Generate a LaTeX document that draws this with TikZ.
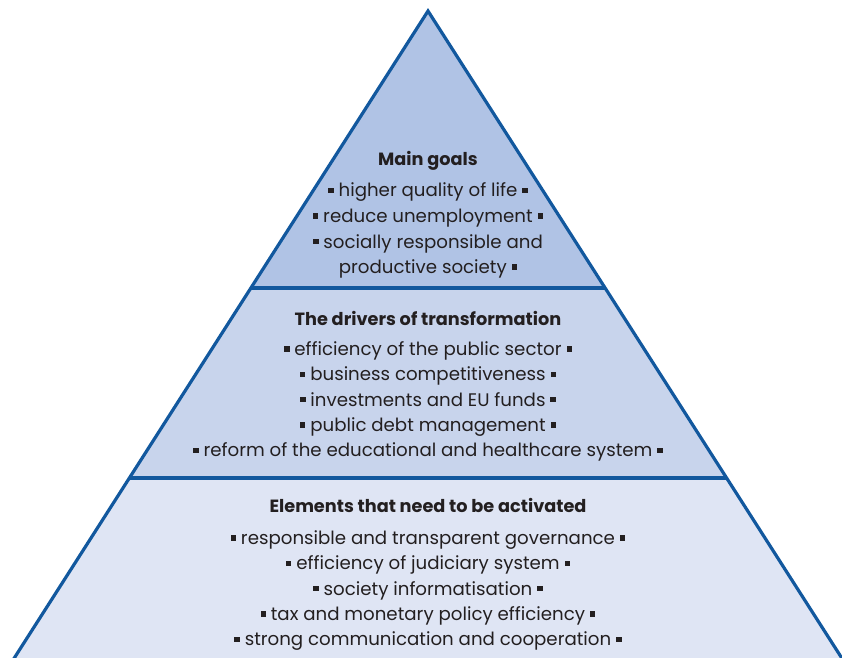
\documentclass[tikz,border=0pt]{standalone}
\usepackage{fontspec}
\setmainfont{Poppins}
\definecolor{edgeblue}{RGB}{18,88,158}
\definecolor{tierone}{RGB}{176,195,229}
\definecolor{tiertwo}{RGB}{200,212,236}
\definecolor{tierthree}{RGB}{223,229,244}
\definecolor{ink}{RGB}{35,31,32}
% small square bullet
\newcommand\sqb{\rule[0.2em]{0.3em}{0.3em}}
\tikzset{
  edge/.style={draw=edgeblue, line width=3.2pt, line join=miter},
  item/.style={anchor=base, inner sep=0pt, text=ink, font=\fontsize{18.2}{20}\selectfont},
  head/.style={anchor=base, inner sep=0pt, text=ink, font=\fontsize{17.7}{20}\selectfont\bfseries},
}
\begin{document}
\begin{tikzpicture}[x=1pt,y=-1pt]
\useasboundingbox (0,0) rectangle (842,657);
% outline corners (slope 0.6395 per unit of height)
\coordinate (apex) at (428,11);
\coordinate (l1) at (250.9,288);
\coordinate (r1) at (605.1,288);
\coordinate (l2) at (129.4,478);
\coordinate (r2) at (726.6,478);
\coordinate (l3) at (6.6,670);
\coordinate (r3) at (849.4,670);
\begin{scope}
\clip (0,0) rectangle (842,657);
\fill[tierone] (apex) -- (r1) -- (l1) -- cycle;
\fill[tiertwo] (l1) -- (r1) -- (r2) -- (l2) -- cycle;
\fill[tierthree] (l2) -- (r2) -- (r3) -- (l3) -- cycle;
\draw[edge] (l1) -- (r1);
\draw[edge] (l2) -- (r2);
\draw[edge] (l3) -- (apex) -- (r3);
\end{scope}
% top tier
\node[head] (g0) at (428,165) {Main goals};
\node[item] (g1) at (428,196.7) {\sqb\ higher quality of life \sqb};
\node[item] (g2) at (428,222.3) {\sqb\ reduce unemployment \sqb};
\node[item] (g3) at (428,248) {\sqb\ socially responsible and};
\node[item] (g4) at (428,273.5) {productive society \sqb};
% middle tier
\node[head] (d0) at (428,325) {The drivers of transformation};
\node[item] (d1) at (428,355.5) {\sqb\ efficiency of the public sector \sqb};
\node[item] (d2) at (428,380.8) {\sqb\ business competitiveness \sqb};
\node[item] (d3) at (428,406.1) {\sqb\ investments and EU funds \sqb};
\node[item] (d4) at (428,431.4) {\sqb\ public debt management \sqb};
\node[item] (d5) at (428,456.7) {\sqb\ reform of the educational and healthcare system \sqb};
% bottom tier
\node[head] (e0) at (428,512) {Elements that need to be activated};
\node[item] (e1) at (428,544.5) {\sqb\ responsible and transparent governance \sqb};
\node[item] (e2) at (428,569.8) {\sqb\ efficiency of judiciary system \sqb};
\node[item] (e3) at (428,595.1) {\sqb\ society informatisation \sqb};
\node[item] (e4) at (428,620.4) {\sqb\ tax and monetary policy efficiency \sqb};
\node[item] (e5) at (428,645.7) {\sqb\ strong communication and cooperation \sqb};
\end{tikzpicture}
\end{document}
